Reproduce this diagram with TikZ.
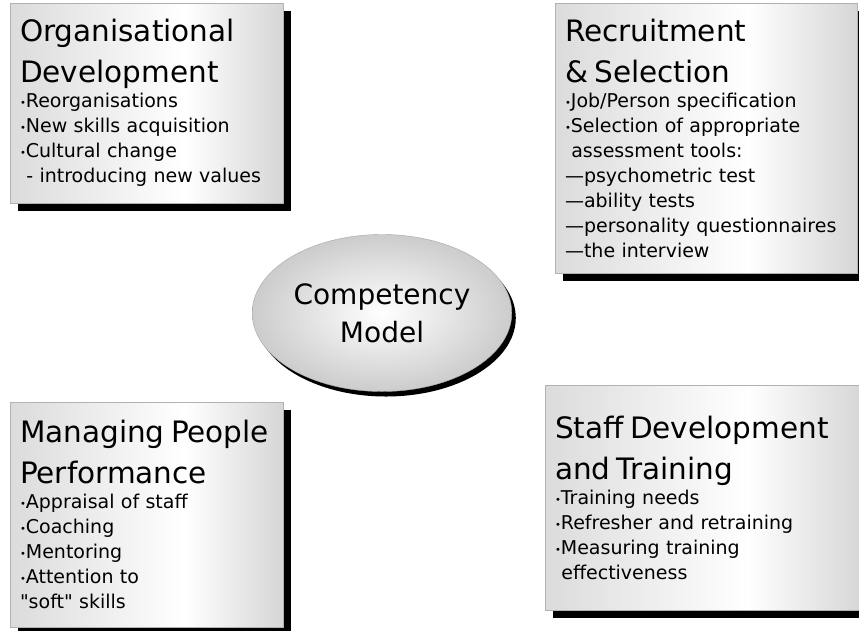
\documentclass[tikz,border=0pt]{standalone}
\usepackage{fontspec}
\setmainfont{DejaVu Sans}[Ligatures=TeXOff]
\usetikzlibrary{shadows,shapes.geometric}
\pgfdeclarehorizontalshading{panelshade}{100bp}{color(0bp)=(gray!28); color(25bp)=(gray!28);
  color(57bp)=(white); color(75bp)=(gray!32); color(100bp)=(gray!32)}
\newcommand{\boxhead}[1]{{\fontsize{29.5}{41}\selectfont #1\par}}
\newcommand{\bl}{{\fontsize{10}{10}\selectfont\raisebox{1pt}{•}}}

\begin{document}
\begin{tikzpicture}[x=1pt, y=-1pt,
  panel/.style={draw=gray!60, line width=0.8pt, shading=panelshade,
    drop shadow={shadow xshift=8pt, shadow yshift=-8pt, fill=black, opacity=1},
    inner xsep=10pt, align=left, font=\fontsize{19}{25}\selectfont},
  hub/.style={ellipse, draw=gray!70, inner color=white, outer color=gray!40,
    drop shadow={shadow xshift=4pt, shadow yshift=-5pt, fill=black, opacity=1},
    align=center, font=\fontsize{28}{38}\selectfont}]
\useasboundingbox[fill=white] (0,0) rectangle (859,630);

\node[panel, minimum width=273pt, minimum height=200pt, text width=253pt] (orgdev) at (146.5,103) {%
\boxhead{Organisational\\Development}
\bl Reorganisations\\
\bl New skills acquisition\\
\bl Cultural change\\
\ - introducing new values};

\node[panel, minimum width=302pt, minimum height=270pt, text width=282pt] (recruit) at (706,138) {%
\boxhead{Recruitment\\\& Selection}
\bl Job/Person specification\\
\bl Selection of appropriate\\
\ assessment tools:\\
—psychometric test\\
—ability tests\\
—personality questionnaires\\
—the interview};

\node[panel, minimum width=273pt, minimum height=225pt, text width=253pt] (manage) at (146.5,514.5) {%
\boxhead{\mbox{Managing People}\\Performance}
\bl Appraisal of staff\\
\bl Coaching\\
\bl Mentoring\\
\bl Attention to\\
"soft" skills};

\node[panel, minimum width=317pt, minimum height=225pt, text width=297pt] (staff) at (703.5,497.5) {%
\boxhead{Staff Development\\and Training}
\bl Training needs\\
\bl Refresher and retraining\\
\bl Measuring training\\
\ effectiveness};

\node[hub, minimum width=230pt, minimum height=157pt] (model) at (382,313) {Competency\\Model};

\end{tikzpicture}
\end{document}
